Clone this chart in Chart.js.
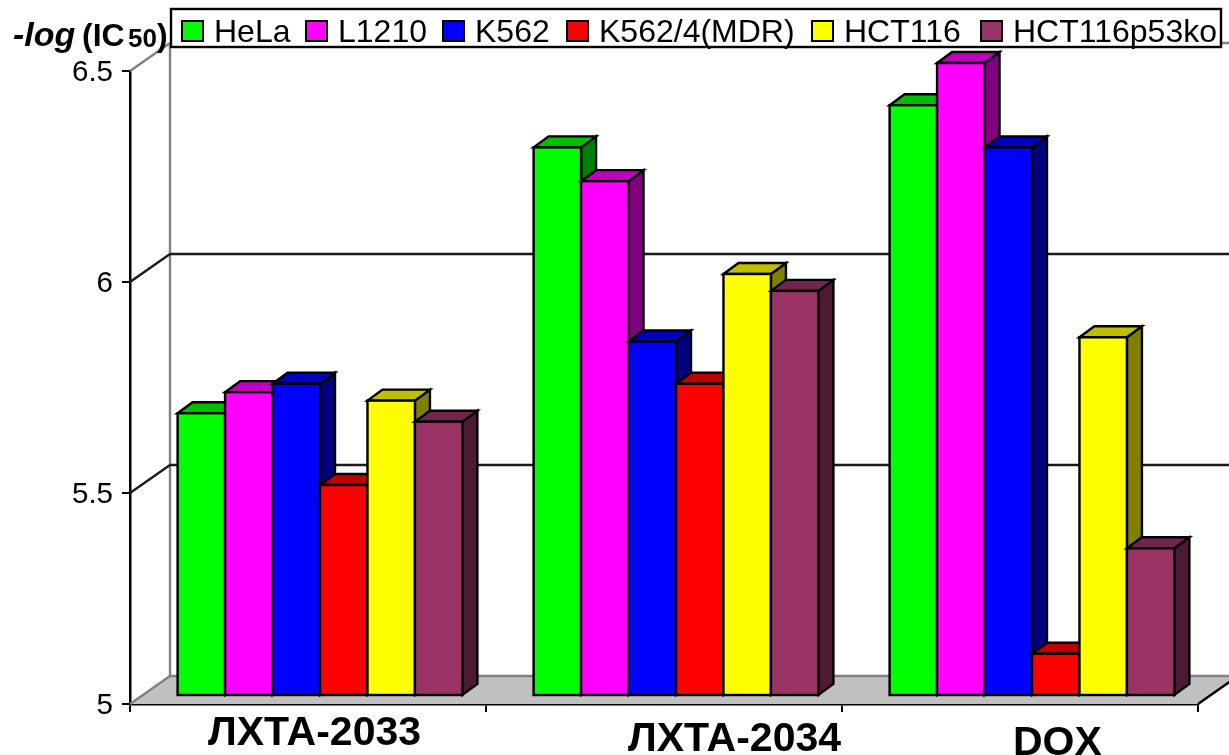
<!DOCTYPE html>
<html>
<head>
<meta charset="utf-8">
<title>-log(IC50) by cell line</title>
<style>
  html, body { margin: 0; padding: 0; background: #fff; overflow: hidden; }
  canvas { display: block; }
</style>
<script src="https://cdn.jsdelivr.net/npm/chart.js@4/dist/chart.umd.min.js"></script>
</head>
<body>
<canvas id="chart" width="1229" height="755"></canvas>
<script>
// Compounds along the category axis
const compounds = ['ЛХТА-2033', 'ЛХТА-2034', 'DOX'];

// -log(IC50) per cell line, one value for each compound
const hela      = [5.67, 6.30, 6.40];
const l1210     = [5.72, 6.22, 6.50];
const k562      = [5.74, 5.84, 6.30];
const k562mdr   = [5.50, 5.74, 5.10];
const hct116    = [5.70, 6.00, 5.85];
const hct116p53 = [5.65, 5.96, 5.35];

const cellLines = ['HeLa', 'L1210', 'K562', 'K562/4(MDR)', 'HCT116', 'HCT116p53ko'];
const seriesValues = [hela, l1210, k562, k562mdr, hct116, hct116p53];
const seriesColors = ['#00ff00', '#ff00ff', '#0000ff', '#ff0000', '#ffff00', '#993366'];
const valueTicks = [5, 5.5, 6, 6.5];

// Fake-perspective offsets, in pixels
const WALL = { dx: 40, dy: -28 };    // depth of the floor and back wall
const FRONT = { dx: 12, dy: -8 };    // where the columns stand on the floor
const COLUMN = { dx: 15, dy: -11 };  // depth of one column
const EDGE = 2.4;                    // outline width of columns and walls

// Text placement around the plot
const SANS = '"Liberation Sans", Arial, sans-serif';
const legendSwatchX = [182, 306, 443, 567, 812, 981];
const categoryLabelX = [208, 628, 1013];
const categoryLabelBaseline = [745, 751, 755];

function shade(hex, k) {
  const n = parseInt(hex.slice(1), 16);
  const c = [(n >> 16) & 255, (n >> 8) & 255, n & 255].map(v => Math.round(v * k));
  return `rgb(${c[0]},${c[1]},${c[2]})`;
}

function polygon(ctx, pts, fill, stroke, width) {
  ctx.beginPath();
  pts.forEach((p, i) => (i ? ctx.lineTo(p[0], p[1]) : ctx.moveTo(p[0], p[1])));
  ctx.closePath();
  if (fill) { ctx.fillStyle = fill; ctx.fill(); }
  if (stroke) { ctx.strokeStyle = stroke; ctx.lineWidth = width; ctx.lineJoin = 'miter'; ctx.stroke(); }
}

function segment(ctx, x0, y0, x1, y1, color, width) {
  ctx.beginPath();
  ctx.moveTo(x0, y0);
  ctx.lineTo(x1, y1);
  ctx.strokeStyle = color;
  ctx.lineWidth = width;
  ctx.stroke();
}

function label(ctx, text, x, y, font, align) {
  ctx.font = font;
  ctx.fillStyle = '#000';
  ctx.textBaseline = 'alphabetic';
  ctx.textAlign = align || 'left';
  ctx.fillText(text, x, y);
}

// Floor, back wall, side-wall diagonals and wall gridlines
const roomPlugin = {
  id: 'room',
  beforeDatasetsDraw(chart) {
    const { ctx, chartArea: a, scales: { y } } = chart;
    ctx.save();
    polygon(ctx, [
      [a.left, a.bottom],
      [a.left + WALL.dx, a.bottom + WALL.dy],
      [a.right + WALL.dx, a.bottom + WALL.dy],
      [a.right, a.bottom]
    ], '#c0c0c0');
    const wallX = a.left + WALL.dx;
    segment(ctx, wallX, y.getPixelForValue(valueTicks[valueTicks.length - 1]) + WALL.dy,
            wallX, a.bottom + WALL.dy, '#808080', EDGE);
    segment(ctx, wallX, a.bottom + WALL.dy, a.right + WALL.dx, a.bottom + WALL.dy, '#808080', EDGE);
    segment(ctx, a.left, a.bottom, wallX, a.bottom + WALL.dy, '#808080', EDGE);
    segment(ctx, a.right, a.bottom, a.right + WALL.dx, a.bottom + WALL.dy, '#000', EDGE);
    valueTicks.slice(1).forEach((v, i) => {
      const py = y.getPixelForValue(v);
      const last = i === valueTicks.length - 2;
      const color = last ? '#808080' : '#1a1a1a';
      segment(ctx, a.left, py, wallX, py + WALL.dy, color, EDGE);
      segment(ctx, wallX, py + WALL.dy, a.right + WALL.dx, py + WALL.dy, color, EDGE);
    });
    ctx.restore();
  }
};

// Paints the columns left to right, each with top and side faces, so that
// a column's front hides the side of its left neighbour
const columnPlugin = {
  id: 'columns',
  beforeDatasetsDraw(chart) {
    const { ctx } = chart;
    ctx.save();
    ctx.translate(FRONT.dx, FRONT.dy);
    seriesColors.forEach((color, index) => {
      chart.getDatasetMeta(index).data.forEach(bar => {
        const p = bar.getProps(['x', 'y', 'base', 'width'], true);
        const l = p.x - p.width / 2, r = p.x + p.width / 2;
        polygon(ctx, [[r, p.y], [r + COLUMN.dx, p.y + COLUMN.dy], [r + COLUMN.dx, p.base + COLUMN.dy], [r, p.base]],
                shade(color, 0.5), '#000', EDGE);
        polygon(ctx, [[l, p.y], [l + COLUMN.dx, p.y + COLUMN.dy], [r + COLUMN.dx, p.y + COLUMN.dy], [r, p.y]],
                shade(color, 0.75), '#000', EDGE);
        bar.draw(ctx);
        ctx.strokeStyle = '#000';
        ctx.lineWidth = EDGE;
        ctx.strokeRect(l, p.y, p.width, p.base - p.y);
      });
    });
    ctx.restore();
    return false;
  }
};

// Axis labels, y-axis caption and the boxed legend
const labelPlugin = {
  id: 'labels',
  afterDraw(chart) {
    const { ctx, scales: { y } } = chart;
    ctx.save();

    // legend
    ctx.fillStyle = '#fff';
    ctx.fillRect(171, 9, 1050, 38);
    ctx.strokeStyle = '#000';
    ctx.lineWidth = EDGE;
    ctx.strokeRect(171, 9, 1050, 38);
    chart.data.datasets.forEach((ds, i) => {
      const x = legendSwatchX[i];
      ctx.fillStyle = ds.backgroundColor;
      ctx.fillRect(x, 21, 21, 20);
      ctx.strokeStyle = '#000';
      ctx.lineWidth = 2;
      ctx.strokeRect(x, 21, 21, 20);
      label(ctx, ds.label, x + 32, 42, `32px ${SANS}`);
    });

    // value axis numbers
    y.ticks.forEach(t => {
      label(ctx, String(t.value), 113, y.getPixelForValue(t.value) + 10, `29.5px ${SANS}`, 'right');
    });

    // category names
    chart.data.labels.forEach((name, i) => {
      label(ctx, name, categoryLabelX[i], categoryLabelBaseline[i], `bold 41px ${SANS}`);
    });

    // caption: -log (IC50)
    label(ctx, '-log', 13, 46, `italic bold 34px ${SANS}`);
    label(ctx, '(IC', 82, 46, `bold 32px ${SANS}`);
    label(ctx, '50', 128, 47, `bold 26px ${SANS}`);
    label(ctx, ')', 157, 46, `bold 32px ${SANS}`);

    ctx.restore();
  }
};

new Chart(document.getElementById('chart'), {
  type: 'bar',
  data: {
    labels: compounds,
    datasets: cellLines.map((name, i) => ({
      label: name,
      data: seriesValues[i],
      base: valueTicks[0],
      backgroundColor: seriesColors[i],
      borderWidth: 0
    }))
  },
  options: {
    responsive: false,
    animation: false,
    events: [],
    layout: { padding: { left: 122, top: 71, right: 31, bottom: 43 } },
    datasets: { bar: { categoryPercentage: 0.8, barPercentage: 1 } },
    plugins: { legend: { display: false }, title: { display: false }, tooltip: { enabled: false } },
    scales: {
      x: {
        grid: { drawOnChartArea: false, drawTicks: true, tickLength: 8, color: '#000', lineWidth: 2, offset: true },
        border: { color: '#000', width: 2.5 },
        ticks: { display: false }
      },
      y: {
        min: 5,
        max: 6.5,
        afterBuildTicks(scale) { scale.ticks = valueTicks.map(value => ({ value })); },
        grid: { drawOnChartArea: false, drawTicks: true, tickLength: 8, color: '#000', lineWidth: 2 },
        border: { color: '#000', width: 2.5 },
        ticks: { display: false }
      }
    }
  },
  plugins: [roomPlugin, columnPlugin, labelPlugin]
});
</script>
</body>
</html>
